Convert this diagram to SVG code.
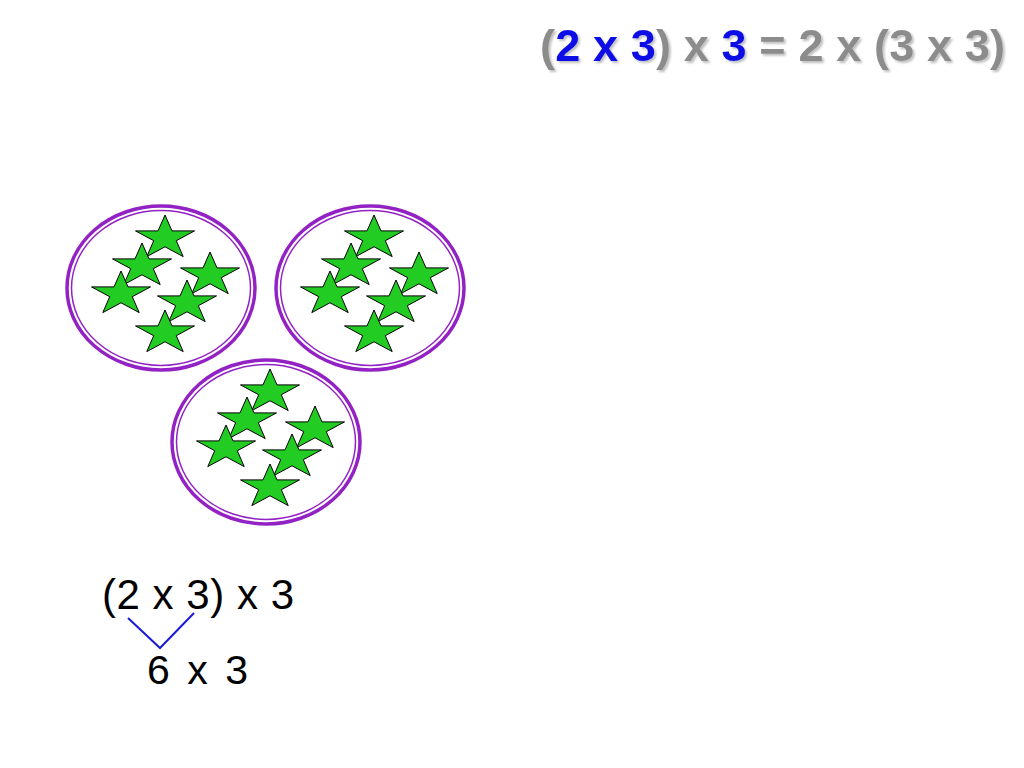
<svg xmlns="http://www.w3.org/2000/svg" width="1024" height="768" viewBox="0 0 1024 768">
<style>
.title{font-family:"Liberation Sans",Arial,sans-serif;font-weight:bold;font-size:45px}
.grey{fill:#8c8c8c}
.blue{fill:#0a0ae6}
.txt{font-family:"Liberation Sans",Arial,sans-serif;fill:#000}
.ringO{fill:#fff;stroke:#9322c4;stroke-width:3.5}
.ringI{fill:none;stroke:#9322c4;stroke-width:1.5}
.star{fill:#22cc22;stroke:#000;stroke-width:1;stroke-linejoin:miter}
.conn{fill:none;stroke:#1a1ad8;stroke-width:2}
</style>
<defs>
<filter id="shadow" x="-5%" y="-20%" width="110%" height="150%">
<feDropShadow dx="2" dy="2" stdDeviation="1" flood-color="#000" flood-opacity="0.25"/>
</filter>
<path id="star" class="star" d="M0,-23 L7,-7.1 L29.5,-7.1 L11.3,2.7 L18.2,18.6 L0,8.8 L-18.2,18.6 L-11.3,2.7 L-29.5,-7.1 L-7,-7.1 Z"/>
<g id="bag">
<ellipse class="ringO" cx="0" cy="0" rx="94" ry="82"/>
<ellipse class="ringI" cx="0" cy="0" rx="89.5" ry="77.5"/>
<use href="#star" x="4" y="-50"/>
<use href="#star" x="-19" y="-22"/>
<use href="#star" x="49" y="-13"/>
<use href="#star" x="-40" y="6"/>
<use href="#star" x="26" y="15"/>
<use href="#star" x="4" y="45"/>
</g>
</defs>
<rect width="1024" height="768" fill="#fff"/>
<g id="title" filter="url(#shadow)">
<text class="title grey" x="540" y="61" textLength="465" lengthAdjust="spacing">(<tspan class="blue">2 x 3</tspan>) x <tspan class="blue">3</tspan> = 2 x (3 x 3)</text>
</g>
<g id="group1"><use href="#bag" x="161" y="288"/></g>
<g id="group2"><use href="#bag" x="370" y="288"/></g>
<g id="group3"><use href="#bag" x="266" y="442"/></g>
<g id="expr1"><text class="txt" x="102" y="609" font-size="42" textLength="192" lengthAdjust="spacing">(2 x 3) x 3</text></g>
<g id="expr2"><text class="txt" x="147" y="684" font-size="41" textLength="101" lengthAdjust="spacing">6 x 3</text></g>
<g id="connectors">
<polyline class="conn" points="128,618 160,648 194,613"/>
</g>
</svg>
